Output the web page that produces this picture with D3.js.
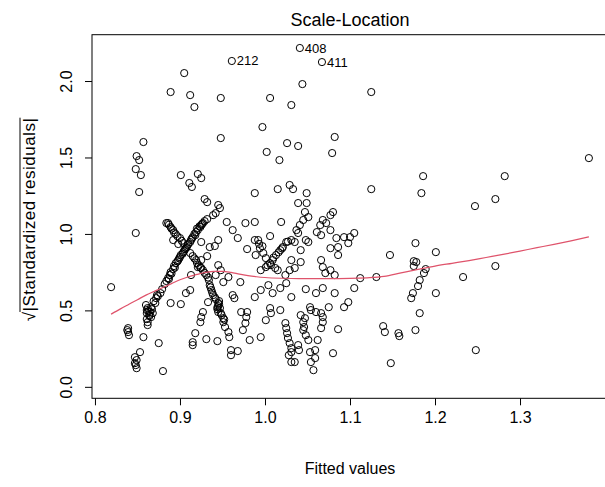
<!DOCTYPE html>
<html>
<head>
<meta charset="utf-8">
<script src="https://cdn.jsdelivr.net/npm/d3@7"></script>
<style>
  body { margin: 0; background: #fff; }
  text { font-family: "Liberation Sans", Arial, Helvetica, sans-serif; fill: #000; }
</style>
</head>
<body>
<div id="chart"></div>
<script>
// fitted values (x) and sqrt(|standardized residuals|) (y)
// the first three are the labelled observations
const fitted = [
  0.961, 1.041, 1.067,
  0.819, 0.857, 0.849, 0.852, 0.848, 0.854, 0.852, 0.848, 0.884, 0.839,
  0.839, 0.840, 0.838, 0.857, 0.853, 0.847, 0.849, 0.847, 0.849, 0.848,
  0.875, 0.880, 0.877, 0.872, 0.871, 0.860, 0.862, 0.865, 0.861, 0.864,
  0.861, 0.862, 0.866, 0.868, 0.874, 0.879, 0.882, 0.861, 0.862, 0.867,
  0.886, 0.888, 0.889, 0.892, 0.893, 0.895, 0.898, 0.900, 0.901, 0.904,
  0.906, 0.908, 0.909, 0.912, 0.913, 0.915, 0.918, 0.919, 0.921, 0.924,
  0.925, 0.927, 0.929, 0.932, 0.884, 0.886, 0.889, 0.892, 0.895, 0.900,
  0.904, 0.907, 0.912, 0.915, 0.919, 0.922, 0.927, 0.931, 0.934, 0.935,
  0.937, 0.939, 0.942, 0.945, 0.945, 0.947, 0.945, 0.948, 0.951, 0.951,
  0.953, 0.957, 0.958, 0.946, 0.944, 0.901, 0.911, 0.921, 0.925, 0.914,
  0.929, 0.932, 0.945, 0.947, 0.942, 0.939, 0.955, 0.977, 0.962, 0.968,
  0.988, 0.988, 0.979, 0.989, 0.988, 0.925, 0.935, 0.945, 0.941, 0.932,
  0.925, 0.921, 0.925, 0.913, 0.945, 0.948, 0.942, 0.957, 0.892, 0.898,
  0.889, 0.901, 0.907, 0.912, 0.918, 0.915, 0.915, 0.924, 0.925, 0.927,
  0.933, 0.931, 0.944, 0.960, 0.960, 0.968, 0.971, 0.962, 0.964, 0.972,
  0.979, 0.978, 0.977, 0.974, 0.982, 0.988, 0.951, 0.905, 0.889, 0.912,
  0.917, 0.948, 0.948, 1.044, 1.006, 1.031, 0.997, 1.082, 1.026, 1.039,
  1.002, 1.079, 1.017, 1.125, 1.015, 1.029, 1.033, 1.049, 1.039, 1.049,
  1.019, 1.006, 1.080, 1.077, 1.068, 1.065, 1.072, 1.077, 1.061, 1.066,
  1.084, 1.093, 1.077, 1.086, 1.045, 1.041, 1.037, 1.039, 1.048, 1.051,
  1.035, 1.031, 1.025, 1.021, 1.018, 1.013, 1.009, 1.006, 1.001, 0.995,
  0.992, 0.994, 0.998, 1.001, 1.007, 1.012, 1.015, 1.031, 1.035, 1.042,
  1.066, 1.068, 1.077, 1.086, 1.071, 1.082, 1.042, 1.051, 1.047, 1.029,
  1.024, 0.995, 1.004, 1.009, 1.018, 1.025, 1.031, 1.048, 1.060, 1.068,
  1.082, 1.075, 1.093, 1.006, 1.007, 1.018, 1.001, 0.995, 1.024, 1.025,
  1.026, 1.027, 1.029, 1.031, 1.031, 1.039, 1.040, 1.031, 1.035, 1.042,
  1.045, 1.046, 1.045, 1.048, 1.051, 1.053, 1.054, 1.060, 1.053, 1.059,
  1.062, 1.059, 1.054, 1.057, 1.068, 1.068, 1.066, 1.066, 1.086, 1.080,
  1.047, 1.028, 1.125, 1.186, 1.184, 1.247, 1.105, 1.100, 1.177, 1.147,
  1.201, 1.175, 1.178, 1.175, 1.189, 1.187, 1.112, 1.131, 1.105, 1.098,
  1.233, 1.182, 1.180, 1.174, 1.172, 1.201, 1.182, 1.139, 1.141, 1.157,
  1.158, 1.177, 1.148, 1.248, 1.282, 1.271, 1.381, 1.271, 1.098,
  // extra observations in the dense crossing bands
  0.887, 0.890, 0.894, 0.897, 0.899, 0.903, 0.905, 0.910, 0.914, 0.917,
  0.920, 0.923, 0.926, 0.887, 0.890, 0.893, 0.897, 0.902, 0.917, 0.920,
  0.924, 0.929, 0.933, 0.936, 0.938, 0.941, 0.946, 0.944, 0.949, 0.952,
  1.003, 1.010, 1.016, 1.020, 1.027, 0.997, 0.993, 0.864, 0.863, 0.866,
  0.869, 0.873
];
const sqrtStdRes = [
  2.131, 2.216, 2.124,
  0.652, 1.601, 1.509, 1.483, 1.424, 1.385, 1.274, 1.006, 1.071, 0.384,
  0.358, 0.338, 0.371, 0.325, 0.227, 0.194, 0.175, 0.155, 0.122, 0.142,
  0.286, 0.103, 0.613, 0.580, 0.548, 0.535, 0.515, 0.489, 0.482, 0.463,
  0.443, 0.423, 0.456, 0.482, 0.593, 0.639, 0.672, 0.502, 0.404, 0.508,
  0.711, 0.731, 0.750, 0.770, 0.790, 0.809, 0.829, 0.849, 0.862, 0.881,
  0.901, 0.914, 0.927, 0.947, 0.960, 0.979, 0.992, 1.012, 1.025, 1.045,
  1.058, 1.071, 1.084, 1.097, 0.692, 1.071, 1.045, 1.025, 0.999, 0.973,
  0.940, 0.907, 0.875, 0.855, 0.829, 0.796, 0.763, 0.731, 0.698, 0.665,
  0.633, 0.600, 0.574, 0.548, 0.528, 0.515, 0.489, 0.482, 0.449, 0.423,
  0.391, 0.358, 0.325, 0.561, 0.508, 1.385, 1.333, 1.392, 1.365, 1.307,
  1.228, 1.208, 1.189, 1.169, 1.136, 1.123, 1.078, 1.071, 1.025, 0.973,
  1.078, 0.960, 0.901, 0.862, 1.267, 0.947, 0.914, 0.960, 0.921, 0.855,
  0.829, 0.783, 0.777, 0.731, 0.796, 0.763, 0.731, 0.718, 0.960, 0.934,
  0.548, 0.541, 0.613, 0.633, 0.351, 0.292, 0.273, 0.423, 0.456, 0.489,
  0.554, 0.312, 0.299, 0.240, 0.207, 0.234, 0.685, 0.600, 0.580, 0.489,
  0.489, 0.456, 0.417, 0.371, 0.306, 0.587, 0.685, 2.052, 1.928, 1.908,
  1.830, 1.889, 1.627, 1.980, 1.889, 1.843, 1.699, 1.634, 1.594, 1.575,
  1.536, 1.529, 1.483, 1.928, 1.293, 1.320, 1.293, 1.267, 1.202, 1.202,
  1.078, 0.986, 1.143, 1.123, 1.091, 1.058, 1.071, 1.025, 1.012, 0.992,
  0.973, 0.979, 0.907, 0.914, 1.091, 1.058, 1.025, 1.006, 0.960, 0.947,
  0.947, 0.960, 0.947, 0.914, 0.894, 0.862, 0.829, 0.809, 0.783, 0.763,
  0.960, 0.907, 0.875, 0.842, 0.796, 0.777, 0.763, 0.829, 0.777, 0.816,
  0.829, 0.783, 0.763, 0.862, 0.744, 0.731, 0.894, 1.110, 1.143, 0.763,
  0.731, 0.633, 0.665, 0.613, 0.646, 0.678, 0.587, 0.639, 0.613, 0.646,
  0.613, 0.521, 0.521, 0.515, 0.482, 0.502, 0.436, 0.325, 0.417, 0.384,
  0.351, 0.319, 0.286, 0.253, 0.227, 0.273, 0.240, 0.162, 0.162, 0.469,
  0.423, 0.391, 0.371, 0.338, 0.306, 0.521, 0.502, 0.489, 0.227, 0.240,
  0.306, 0.188, 0.162, 0.109, 0.456, 0.423, 0.384, 0.482, 0.377, 0.220,
  0.449, 0.207, 1.293, 1.378, 1.267, 1.182, 1.006, 0.979, 0.940, 0.862,
  0.881, 0.822, 0.816, 0.790, 0.770, 0.744, 0.711, 0.718, 0.646, 0.554,
  0.718, 0.698, 0.659, 0.613, 0.580, 0.613, 0.482, 0.397, 0.358, 0.351,
  0.332, 0.371, 0.155, 0.240, 1.378, 1.228, 1.496, 0.790, 0.940,
  0.705, 0.740, 0.780, 0.820, 0.840, 0.870, 0.890, 0.935, 0.970, 1.000,
  1.035, 1.050, 1.065, 1.060, 1.035, 1.010, 0.985, 0.955, 0.840, 0.810,
  0.780, 0.745, 0.715, 0.650, 0.615, 0.585, 0.540, 0.520, 0.470, 0.440,
  0.795, 0.845, 0.880, 0.905, 0.950, 0.920, 0.935, 0.470, 0.495, 0.520,
  0.560, 0.600
];
const idLabels = ["212", "408", "411"];

// red smoother
const smoothX = [0.819, 0.83, 0.84, 0.85, 0.86, 0.87, 0.88, 0.89, 0.90, 0.91, 0.92, 0.93, 0.94,
  0.95, 0.96, 0.97, 0.98, 0.99, 1.00, 1.02, 1.04, 1.06, 1.08, 1.10, 1.12, 1.14, 1.16, 1.18,
  1.20, 1.22, 1.24, 1.26, 1.28, 1.30, 1.32, 1.34, 1.36, 1.381];
const smoothY = [0.475, 0.51, 0.54, 0.57, 0.60, 0.625, 0.65, 0.675, 0.70, 0.72, 0.735, 0.748, 0.755,
  0.755, 0.748, 0.737, 0.727, 0.72, 0.715, 0.71, 0.708, 0.708, 0.708, 0.709, 0.713, 0.722, 0.745, 0.768,
  0.79, 0.808, 0.826, 0.846, 0.866, 0.888, 0.91, 0.932, 0.955, 0.981];

const xTicks = [0.8, 0.9, 1.0, 1.1, 1.2, 1.3];
const yTicks = [0.0, 0.5, 1.0, 1.5, 2.0];

const width = 605, height = 487;
const box = { left: 92, top: 34.7, right: 608, bottom: 398.3 };

const ext = d3.extent(fitted);
const pad = (ext[1] - ext[0]) * 0.04;
const x = d3.scaleLinear().domain([ext[0] - pad, ext[1] + pad]).range([box.left, box.right]);
const y = d3.scaleLinear().domain([-0.075, 2.303]).range([box.bottom, box.top]);

const svg = d3.select("#chart").append("svg")
  .attr("width", width)
  .attr("height", height);

// points
const pts = fitted.map((f, i) => ({ f: f, r: sqrtStdRes[i] }));
svg.append("g").selectAll("circle")
  .data(pts)
  .enter()
  .append("circle")
  .attr("cx", d => x(d.f))
  .attr("cy", d => y(d.r))
  .attr("r", 3.6)
  .attr("fill", "none")
  .attr("stroke", "#000")
  .attr("stroke-width", 1);

// smoother
svg.append("path")
  .datum(smoothX.map((v, i) => [v, smoothY[i]]))
  .attr("fill", "none")
  .attr("stroke", "#DF536B")
  .attr("stroke-width", 1.2)
  .attr("d", d3.line().x(d => x(d[0])).y(d => y(d[1])).curve(d3.curveMonotoneX));

// id labels
svg.append("g").selectAll("text")
  .data(idLabels)
  .enter()
  .append("text")
  .attr("x", (d, i) => x(fitted[i]) + 5)
  .attr("y", (d, i) => y(sqrtStdRes[i]) + 4.5)
  .style("font-size", "13px")
  .text(d => d);

// box
svg.append("rect")
  .attr("x", box.left)
  .attr("y", box.top)
  .attr("width", box.right - box.left)
  .attr("height", box.bottom - box.top)
  .attr("fill", "none")
  .attr("stroke", "#000")
  .attr("stroke-width", 1);

// x axis
const xAxis = svg.append("g")
  .attr("transform", "translate(0," + box.bottom + ")")
  .call(d3.axisBottom(x).tickValues(xTicks).tickSize(7).tickPadding(6).tickFormat(d3.format(".1f")));
xAxis.select(".domain").remove();
xAxis.selectAll("text").style("font-size", "16px").style("font-family", null);

// y axis
const yAxis = svg.append("g")
  .attr("transform", "translate(" + box.left + ",0)")
  .call(d3.axisLeft(y).tickValues(yTicks).tickSize(7).tickFormat(d3.format(".1f")));
yAxis.select(".domain").remove();
yAxis.selectAll("text")
  .style("font-size", "16px")
  .style("font-family", null)
  .attr("x", 0)
  .attr("dy", null)
  .attr("text-anchor", "middle")
  .attr("transform", "translate(-20,0) rotate(-90)");

// titles
svg.append("text")
  .attr("x", (box.left + box.right) / 2)
  .attr("y", 26)
  .attr("text-anchor", "middle")
  .style("font-size", "18px")
  .text("Scale-Location");

svg.append("text")
  .attr("x", (box.left + box.right) / 2)
  .attr("y", 474)
  .attr("text-anchor", "middle")
  .style("font-size", "16px")
  .text("Fitted values");

const yt = svg.append("g")
  .attr("transform", "translate(35," + ((box.top + box.bottom) / 2 + 3) + ") rotate(-90)");
const ytText = yt.append("text")
  .attr("text-anchor", "middle")
  .style("font-size", "17px")
  .style("letter-spacing", "0.5px");
ytText.append("tspan").text("\u221A");
ytText.append("tspan").text("|Standardized residuals|");
const full = ytText.node().getComputedTextLength();
const rootW = ytText.node().getSubStringLength(0, 1);
yt.append("line")
  .attr("x1", -full / 2 + rootW - 0.5)
  .attr("x2", full / 2)
  .attr("y1", -15)
  .attr("y2", -15)
  .attr("stroke", "#000")
  .attr("stroke-width", 1);
</script>
</body>
</html>
